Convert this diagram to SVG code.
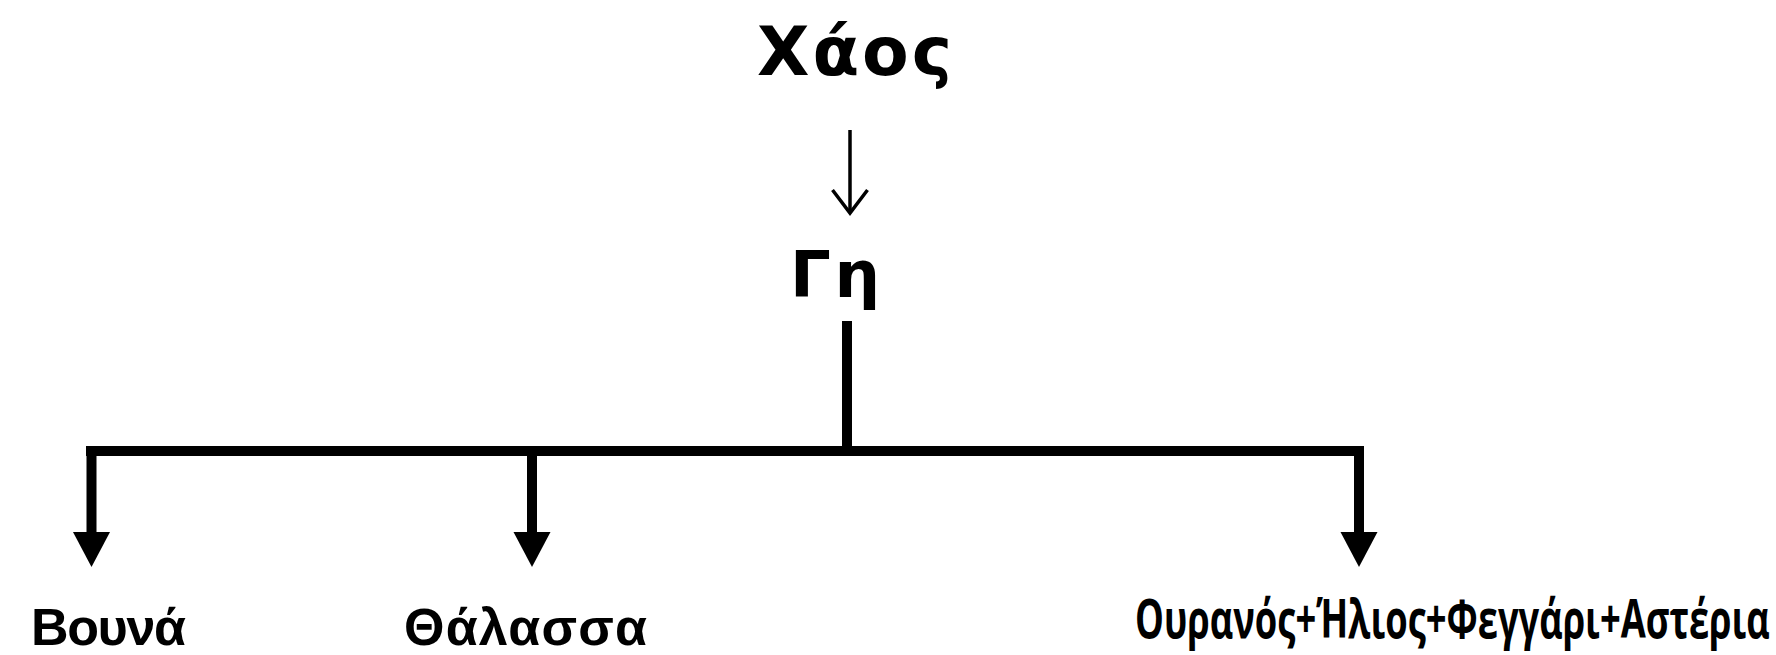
<svg xmlns="http://www.w3.org/2000/svg" width="1776" height="655" viewBox="0 0 1776 655">
<style>
.bg{fill:#fff}
.title{font-family:"DejaVu Sans",Verdana,sans-serif;font-weight:bold;fill:#000}
.leaf{font-family:"Liberation Sans",Arial,sans-serif;font-weight:bold;font-size:52px;fill:#000}
.leaf2{font-family:"Open Sans","DejaVu Sans",sans-serif;font-weight:bold;font-size:53px;fill:#000}
.thick{fill:none;stroke:#000;stroke-width:10;stroke-linejoin:miter}
.thin{fill:none;stroke:#000;stroke-width:3.5}
</style>
<defs>
<marker id="tri" markerUnits="userSpaceOnUse" markerWidth="40" markerHeight="40" viewBox="0 -20 40 40" refX="3" refY="0" orient="auto">
<path d="M0,-18.5 L35,0 L0,18.5 Z" fill="#000"/>
</marker>
<marker id="chev" markerUnits="userSpaceOnUse" markerWidth="30" markerHeight="40" viewBox="-26 -20 30 40" refX="0" refY="0" orient="auto">
<path d="M-23,-17.5 L0,0 L-23,17.5" fill="none" stroke="#000" stroke-width="3.5" stroke-linejoin="miter"/>
</marker>
</defs>
<rect class="bg" x="0" y="0" width="1776" height="655"/>
<g id="connectors">
<path class="thin" d="M850,130 V213" marker-end="url(#chev)"/>
<path class="thick" d="M847,321 V451"/>
<path class="thick" d="M86,451 H1364"/>
<path class="thick" d="M91.5,446 V535" marker-end="url(#tri)"/>
<path class="thick" d="M532,446 V535" marker-end="url(#tri)"/>
<path class="thick" d="M1359,446 V535" marker-end="url(#tri)"/>
</g>
<g id="node-chaos"><text class="title" x="757" y="75" font-size="68" textLength="195" lengthAdjust="spacing">Χάος</text></g>
<g id="node-gi"><text class="title" x="790" y="297" font-size="64" textLength="90" lengthAdjust="spacing">Γη</text></g>
<g id="node-vouna"><text class="leaf" x="31" y="645" textLength="155" lengthAdjust="spacing">Βουνά</text></g>
<g id="node-thalassa"><text class="leaf" x="404" y="645" textLength="243" lengthAdjust="spacing">Θάλασσα</text></g>
<g id="node-ouranos"><text class="leaf2" transform="translate(1135,638) scale(0.69,1)" x="0" y="0" textLength="920" lengthAdjust="spacingAndGlyphs">Ουρανός+Ήλιος+Φεγγάρι+Αστέρια</text></g>
</svg>
